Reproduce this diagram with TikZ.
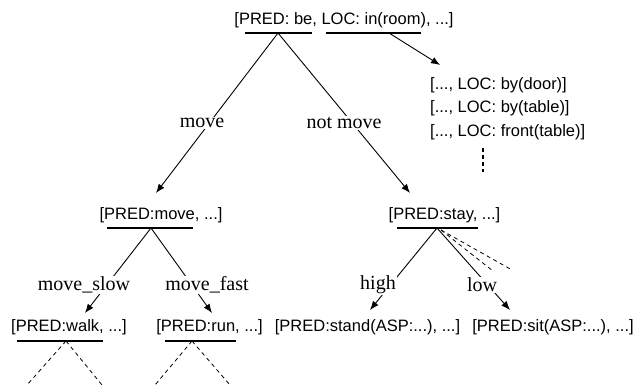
\documentclass[tikz,border=0pt]{standalone}
\usepackage{fontspec}
\setmainfont{Liberation Serif}
\newfontfamily\arialfont{Liberation Sans}
\usetikzlibrary{arrows.meta}
\tikzset{
  feat/.style={inner sep=0pt, font=\arialfont\fontsize{16.5}{20}\selectfont},
  lbl/.style={inner sep=1pt, fill=white, font=\fontsize{20}{24}\selectfont},
  uline/.style={line width=2.4pt},
  conn/.style={line width=0.9pt},
  arr/.style={conn, -{Latex[length=9pt,width=7pt]}},
  dsh/.style={line width=0.8pt, dash pattern=on 4pt off 3.5pt},
}
\begin{document}
\begin{tikzpicture}[x=1pt,y=-1pt]
\useasboundingbox (0,0) rectangle (634,385);
% top
\node[feat] (top) at (344,20) {[PRED: be, LOC: in(room), ...]};
\draw[uline] (245,33) -- (312,33);
\draw[uline] (326,33) -- (421,33);
\coordinate (topA) at (278,33);
\coordinate (topB) at (389,33);
% LOC list
\node[feat, anchor=west] (l1) at (430,85) {[..., LOC: by(door)]};
\node[feat, anchor=west] (l2) at (430,108) {[..., LOC: by(table)]};
\node[feat, anchor=west] (l3) at (430,132) {[..., LOC: front(table)]};
\coordinate (d1) at (483,148);
\coordinate (d2) at (483,172);
\draw[line width=2pt, dash pattern=on 4pt off 3pt] (d1) -- (d2);
\coordinate (locT) at (440,65);
\draw[arr] (topB) -- (locT);
% middle nodes
\node[feat] (mv) at (161,215) {[PRED:move, ...]};
\draw[uline] (107,228) -- (193,228);
\coordinate (mvA) at (151,228);
\node[feat] (st) at (444.5,215) {[PRED:stay, ...]};
\draw[uline] (397,228) -- (478,228);
\coordinate (stA) at (437,228);
\coordinate (mvT) at (156,193);
\coordinate (stT) at (410,193);
\draw[arr] (topA) -- (mvT);
\draw[arr] (topA) -- (stT);
\node[lbl] (lmove) at (202,123) {move};
\node[lbl] (lnot) at (344,123) {not move};
% bottom left
\node[feat] (wk) at (69,327) {[PRED:walk, ...]};
\draw[uline] (17,341) -- (103,341);
\coordinate (wkA) at (66,341);
\node[feat] (rn) at (209.5,327) {[PRED:run, ...]};
\draw[uline] (165,341) -- (236,341);
\coordinate (rnA) at (192,341);
\coordinate (wkT) at (85,313);
\coordinate (rnT) at (212,313);
\draw[arr] (mvA) -- (wkT);
\draw[arr] (mvA) -- (rnT);
\node[lbl] (lslow) at (84,285) {move\_slow};
\node[lbl] (lfast) at (207,285) {move\_fast};
\coordinate (w1) at (27,385);
\coordinate (w2) at (102,385);
\coordinate (r1) at (155,385);
\coordinate (r2) at (230,385);
\draw[dsh] (wkA) -- (w1);
\draw[dsh] (wkA) -- (w2);
\draw[dsh] (rnA) -- (r1);
\draw[dsh] (rnA) -- (r2);
% bottom right
\node[feat] (sd) at (367.5,327) {[PRED:stand(ASP:...), ...]};
\node[feat] (si) at (553,327) {[PRED:sit(ASP:...), ...]};
\coordinate (sdT) at (370,310);
\coordinate (siT) at (510,310);
\draw[arr] (stA) -- (sdT);
\draw[arr] (stA) -- (siT);
\node[lbl] (lhigh) at (378,285) {high};
\node[lbl] (llow) at (482,285) {low};
\coordinate (sx) at (441,230);
\coordinate (e1) at (493,271);
\coordinate (e2) at (512,270);
\draw[dsh] (sx) -- (e1);
\draw[dsh] (sx) -- (e2);
\end{tikzpicture}
\end{document}
